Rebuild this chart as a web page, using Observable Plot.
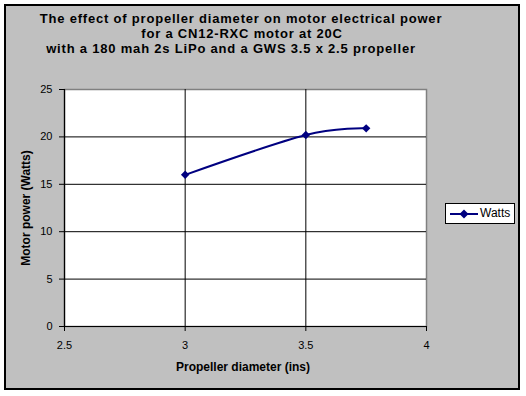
<!DOCTYPE html>
<html>
<head>
<meta charset="utf-8">
<script src="https://cdn.jsdelivr.net/npm/d3@7"></script>
<script src="https://cdn.jsdelivr.net/npm/@observablehq/plot@0.6"></script>
<style>
  html, body { margin: 0; padding: 0; background: #fff; }
  #wrap { position: relative; width: 526px; height: 396px; font-family: "Liberation Sans", Arial, sans-serif; }
  #area { position: absolute; left: 4px; top: 4px; width: 516px; height: 386px; box-sizing: border-box; border: 2px solid #000; background: #c0c0c0; }
  .t { position: absolute; font-weight: bold; font-size: 13px; letter-spacing: 0.8px; white-space: nowrap; transform: translate(-50%, -50%); color: #000; }
  #plot { position: absolute; left: 0; top: 0; }
  #ylab { position: absolute; left: 26px; top: 208px; font-weight: bold; font-size: 12px; white-space: nowrap; transform: translate(-50%, -50%) rotate(-90deg); }
  #xlab { position: absolute; left: 243px; top: 367px; font-weight: bold; font-size: 12px; white-space: nowrap; transform: translate(-50%, -50%); }
  #legend { position: absolute; left: 445px; top: 203px; width: 70px; height: 21px; box-sizing: border-box; border: 1px solid #000; background: #fff; font-size: 12px; }
  #legend svg { position: absolute; left: 3px; top: 4px; }
  #legend span { position: absolute; left: 34px; top: 2px; }
</style>
</head>
<body>
<div id="wrap">
  <div id="area"></div>
  <div class="t" style="left:241px; top:18px;">The effect of propeller diameter on motor electrical power</div>
  <div class="t" style="left:242px; top:33px;">for a CN12-RXC motor at 20C</div>
  <div class="t" style="left:231px; top:48px;">with a 180 mah 2s LiPo and a GWS 3.5 x 2.5 propeller</div>
  <div id="plot"></div>
  <div id="ylab">Motor power (Watts)</div>
  <div id="xlab">Propeller diameter (ins)</div>
  <div id="legend">
    <svg width="30" height="12"><line x1="1" y1="6" x2="29" y2="6" stroke="#000080" stroke-width="2"/><path d="M15,1.5L19.5,6L15,10.5L10.5,6Z" fill="#000080"/></svg>
    <span>Watts</span>
  </div>
</div>
<script>
const diameters = [3, 3.5, 3.75];
const watts = [16.0, 20.2, 20.9];
const xTicks = [2.5, 3, 3.5, 4];
const yTicks = [0, 5, 10, 15, 20, 25];
const xGrid = [3, 3.5];
const yGrid = [5, 10, 15, 20];

const data = diameters.map((d, i) => ({d, w: watts[i]}));

const chart = Plot.plot({
  width: 526,
  height: 396,
  marginLeft: 64,
  marginRight: 100,
  marginTop: 89,
  marginBottom: 70,
  style: {background: "transparent", fontFamily: "'Liberation Sans', Arial, sans-serif", fontSize: "11px", color: "#000"},
  x: {domain: [2.5, 4]},
  y: {domain: [0, 25]},
  marks: [
    Plot.frame({fill: "white", stroke: "#808080", strokeWidth: 1.5}),
    Plot.ruleY(yGrid, {stroke: "#000", strokeWidth: 1}),
    Plot.ruleX(xGrid, {stroke: "#000", strokeWidth: 1}),
    Plot.ruleX([2.5], {stroke: "#000", strokeWidth: 1.2}),
    Plot.ruleY([0], {stroke: "#000", strokeWidth: 1.2}),
    Plot.axisX({ticks: xTicks, tickSize: 5, tickPadding: 10, label: null, tickFormat: d => String(d), stroke: "#000"}),
    Plot.axisY({ticks: yTicks, tickSize: 5, tickPadding: 7, label: null, tickFormat: d => String(d), stroke: "#000"}),
    Plot.line(data, {x: "d", y: "w", stroke: "#000080", strokeWidth: 2, curve: "cardinal"}),
    Plot.dot(data, {x: "d", y: "w", symbol: "diamond2", r: 3.8, fill: "#000080", stroke: "none"})
  ]
});
document.getElementById("plot").appendChild(chart);
</script>
</body>
</html>
